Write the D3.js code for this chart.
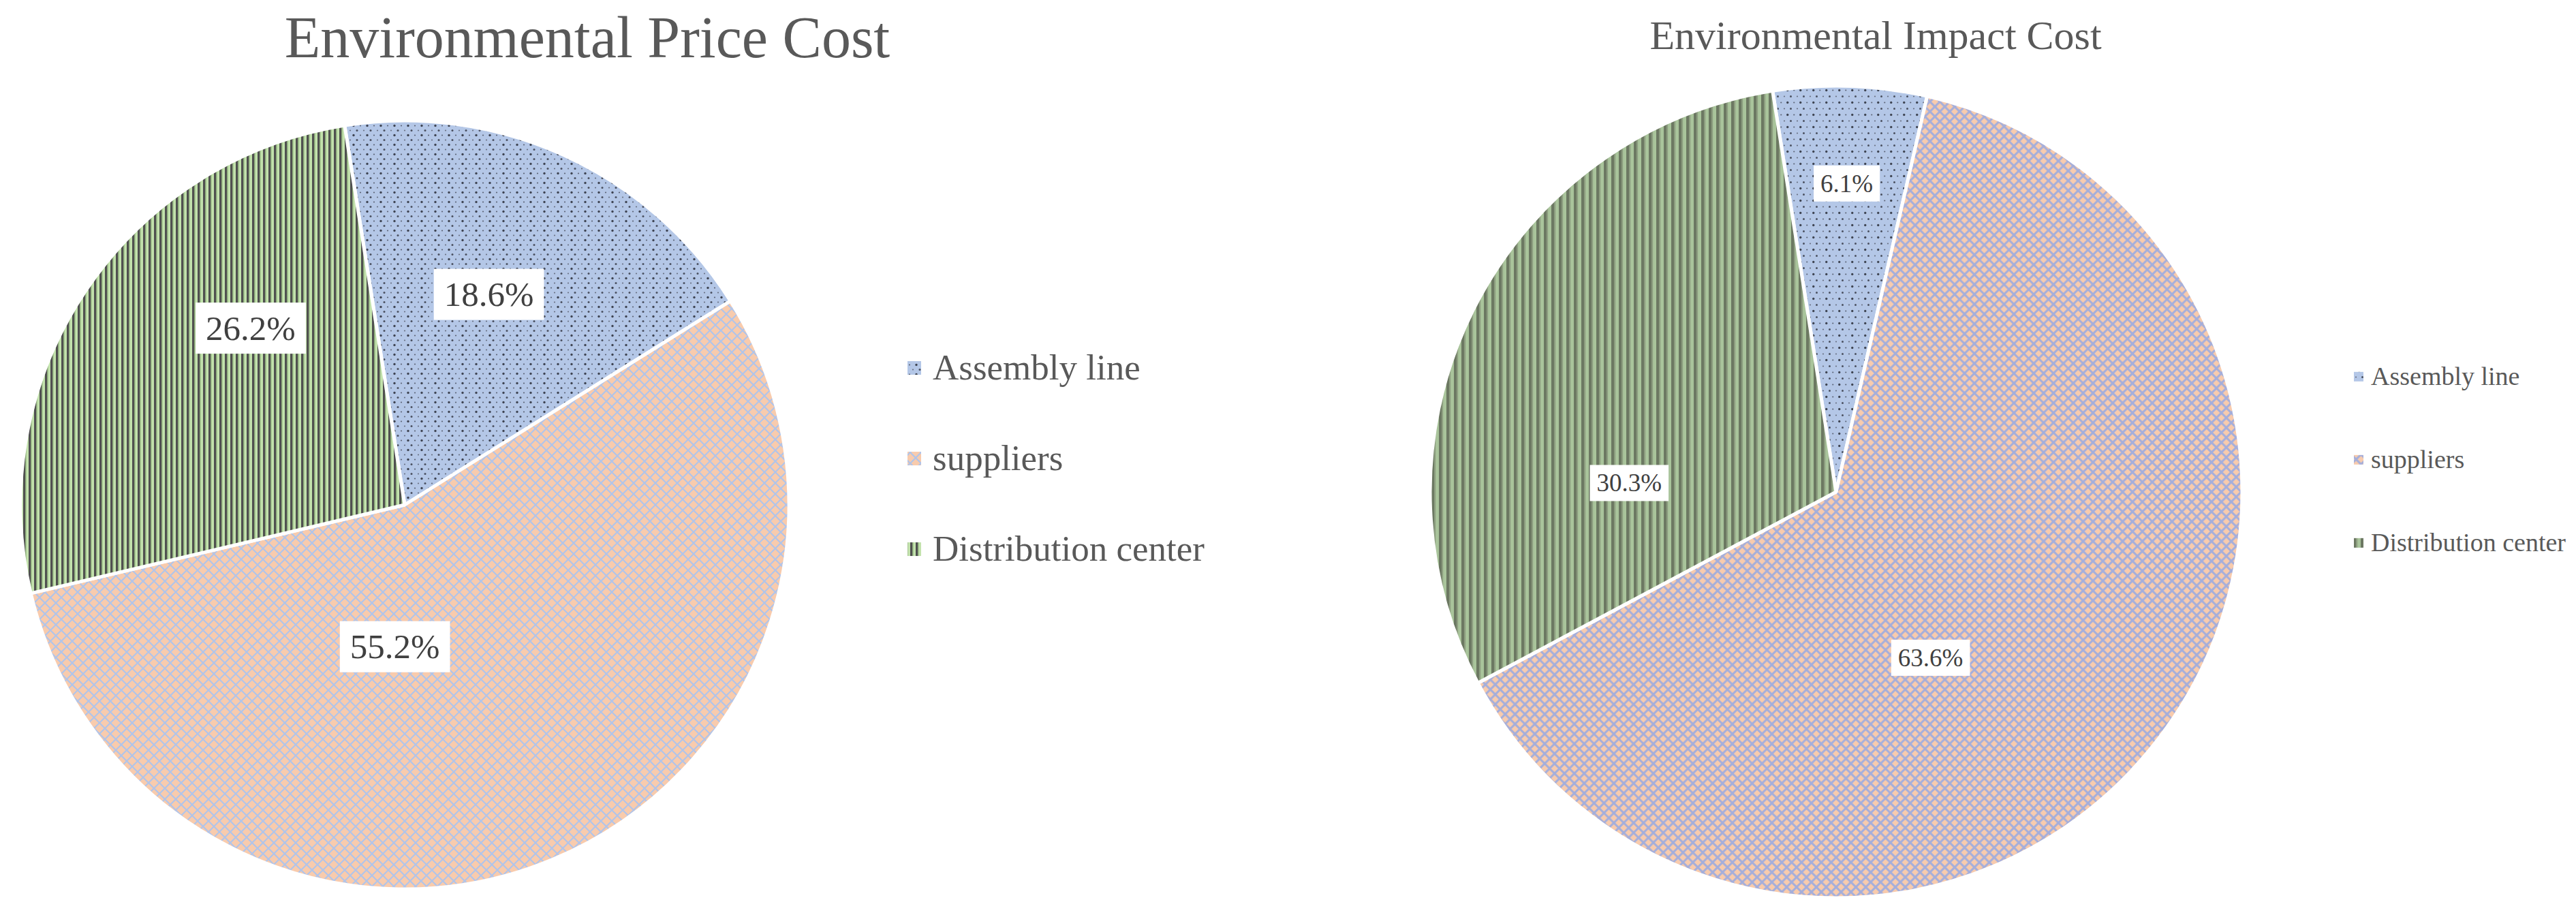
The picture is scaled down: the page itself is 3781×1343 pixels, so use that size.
<!DOCTYPE html>
<html><head><meta charset="utf-8">
<script src="https://cdn.jsdelivr.net/npm/d3@7"></script>
<style>html,body{margin:0;padding:0;background:#fff;}svg{display:block}</style>
</head><body>
<svg id="c" width="3781" height="1343"></svg>
<script>
// ---- data ----
const categories = ["Assembly line", "suppliers", "Distribution center"];
const priceCostValues = [18.6, 55.2, 26.2];
const impactCostValues = [6.1, 63.6, 30.3];
const chartTitles = ["Environmental Price Cost", "Environmental Impact Cost"];

// ---- layout / style ----
const FONT = "'Liberation Serif','Times New Roman',serif";
const charts = [
  { id: "p", values: priceCostValues, title: chartTitles[0],
    cx: 594, cy: 741, r: 564, titleX: 862, titleY: 84, titleSize: 86,
    labelSize: 51, padX: 15, boxH: 75,
    labelPlace: [[0.46, 0.59], [0.634, 0.37], [0.66, 0.61]],
    legX: 1332, legSq: 20, legTextX: 1369, legY0: 557, legDy: 133, legSize: 53,
    dot: { w: 20, h: 14 }, lat: { s: 16, c: "#b0c4ea", w: 2.1 },
    stripe: { w: 8, base: "#c3e2ad", dark: "#505050", mid: "#8aa878" } },
  { id: "i", values: impactCostValues, title: chartTitles[1],
    cx: 2695, cy: 722, r: 596, titleX: 2753, titleY: 72, titleSize: 60,
    labelSize: 37, padX: 10, boxH: 53,
    labelPlace: [[0.5, 0.76], [0.60, 0.47], [0.28, 0.51]],
    legX: 3455, legSq: 14, legTextX: 3480, legY0: 565, legDy: 122, legSize: 38,
    dot: { w: 19, h: 18 }, lat: { s: 14.5, c: "#a4aedb", w: 3 },
    stripe: { w: 11, base: "#a9c49b", dark: "#6c7862", mid: "#8b9b7e" } }
];

const svg = d3.select("#c");
const defs = svg.append("defs");
const deg = Math.PI / 180;
const pie = d3.pie().sort(null).startAngle(-9 * deg).endAngle(351 * deg);

charts.forEach(ch => {
  // patterns
  const pd = defs.append("pattern").attr("id", ch.id + "dots").attr("patternUnits", "userSpaceOnUse")
    .attr("width", ch.dot.w).attr("height", ch.dot.h);
  pd.append("rect").attr("width", ch.dot.w).attr("height", ch.dot.h).attr("fill", "#b4c7e7");
  pd.append("circle").attr("cx", ch.dot.w * 0.25).attr("cy", ch.dot.h * 0.25).attr("r", 1.7).attr("fill", "#3e4452");
  pd.append("circle").attr("cx", ch.dot.w * 0.75).attr("cy", ch.dot.h * 0.25).attr("r", 1.1).attr("fill", "#5d6577");
  pd.append("circle").attr("cx", ch.dot.w * 0.5).attr("cy", ch.dot.h * 0.75).attr("r", 1.5).attr("fill", "#4a5060");
  pd.append("circle").attr("cx", 0).attr("cy", ch.dot.h * 0.75).attr("r", 1.1).attr("fill", "#6a7284");
  pd.append("circle").attr("cx", ch.dot.w).attr("cy", ch.dot.h * 0.75).attr("r", 1.1).attr("fill", "#6a7284");

  const s = ch.lat.s;
  const pl = defs.append("pattern").attr("id", ch.id + "lat").attr("patternUnits", "userSpaceOnUse")
    .attr("width", s).attr("height", s);
  pl.append("rect").attr("width", s).attr("height", s).attr("fill", "#f8cbad");
  pl.append("path").attr("d", `M${-s/2},${s/2}L${s/2},${-s/2}M0,${s}L${s},0M${s/2},${s*1.5}L${s*1.5},${s/2}` +
      `M${-s/2},${s/2}L${s/2},${s*1.5}M0,0L${s},${s}M${s/2},${-s/2}L${s*1.5},${s/2}`)
    .attr("stroke", ch.lat.c).attr("stroke-width", ch.lat.w).attr("fill", "none");

  const w = ch.stripe.w;
  const ps = defs.append("pattern").attr("id", ch.id + "str").attr("patternUnits", "userSpaceOnUse")
    .attr("width", w).attr("height", 10);
  ps.append("rect").attr("width", w).attr("height", 10).attr("fill", ch.stripe.base);
  ps.append("rect").attr("x", 0).attr("width", w * 0.38).attr("height", 10).attr("fill", ch.stripe.dark);
  ps.append("rect").attr("x", w * 0.38).attr("width", w * 0.18).attr("height", 10).attr("fill", ch.stripe.mid);

  const fills = ["url(#" + ch.id + "dots)", "url(#" + ch.id + "lat)", "url(#" + ch.id + "str)"];

  const rows = categories.map((c, i) => ({ cat: c, value: ch.values[i], i }));
  const arcs = pie.value(d => d.value)(rows);
  const arc = d3.arc().innerRadius(0).outerRadius(ch.r);

  const g = svg.append("g").attr("transform", `translate(${ch.cx},${ch.cy})`);
  g.selectAll("path.slice").data(arcs).join("path").attr("class", "slice")
    .attr("d", arc).attr("fill", d => fills[d.index])
    .attr("stroke", "#fff").attr("stroke-width", 5).attr("stroke-linejoin", "round");

  // labels
  arcs.forEach(a => {
    const [fa, fr] = ch.labelPlace[a.index];
    const ang = a.startAngle + (a.endAngle - a.startAngle) * fa;
    const x = Math.sin(ang) * ch.r * fr, y = -Math.cos(ang) * ch.r * fr;
    const lg = g.append("g").attr("transform", `translate(${x},${y})`);
    const rect = lg.append("rect").attr("fill", "#fff");
    const t = lg.append("text").attr("text-anchor", "middle").attr("dominant-baseline", "central")
      .attr("font-family", FONT).attr("font-size", ch.labelSize).attr("fill", "#404040")
      .text(a.data.value.toFixed(1) + "%");
    const tw = t.node().getComputedTextLength();
    rect.attr("x", -tw / 2 - ch.padX).attr("y", -ch.boxH / 2).attr("width", tw + 2 * ch.padX).attr("height", ch.boxH);
  });

  // title
  svg.append("text").attr("x", ch.titleX).attr("y", ch.titleY).attr("text-anchor", "middle")
    .attr("font-family", FONT).attr("font-size", ch.titleSize).attr("fill", "#595959").text(ch.title);

  // legend
  const leg = svg.append("g");
  categories.forEach((c, i) => {
    const by = ch.legY0 + i * ch.legDy;
    leg.append("rect").attr("x", ch.legX).attr("y", by - ch.legSize * 0.32 - ch.legSq / 2)
      .attr("width", ch.legSq).attr("height", ch.legSq).attr("fill", fills[i]);
    leg.append("text").attr("x", ch.legTextX).attr("y", by).attr("font-family", FONT)
      .attr("font-size", ch.legSize).attr("fill", "#595959").text(c);
  });
});
</script>
</body></html>
